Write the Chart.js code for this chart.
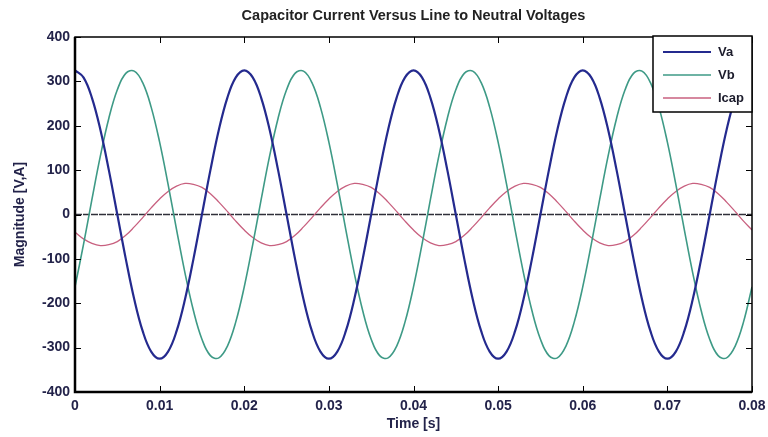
<!DOCTYPE html>
<html><head><meta charset="utf-8">
<script src="https://cdn.jsdelivr.net/npm/chart.js@4.4.0/dist/chart.umd.min.js"></script>
<style>html,body{margin:0;padding:0;background:#fff;overflow:hidden}</style>
</head><body>
<canvas id="c" width="768" height="437"></canvas>
<script>
const chartTitle = 'Capacitor Current Versus Line to Neutral Voltages';
const seriesNames = ['Va', 'Vb', 'Icap'];
const timeS = [0,0.001,0.002,0.003,0.004,0.005,0.006,0.007,0.008,0.009,
 0.010,0.011,0.012,0.013,0.014,0.015,0.016,0.017,0.018,0.019,
 0.020,0.021,0.022,0.023,0.024,0.025,0.026,0.027,0.028,0.029,
 0.030,0.031,0.032,0.033,0.034,0.035,0.036,0.037,0.038,0.039,
 0.040,0.041,0.042,0.043,0.044,0.045,0.046,0.047,0.048,0.049,
 0.050,0.051,0.052,0.053,0.054,0.055,0.056,0.057,0.058,0.059,
 0.060,0.061,0.062,0.063,0.064,0.065,0.066,0.067,0.068,0.069,
 0.070,0.071,0.072,0.073,0.074,0.075,0.076,0.077,0.078,0.079,0.080];
const va = [325,309,263,191,100,0,-100,-191,-263,-309,-325,-309,-263,-191,-100,0,100,191,263,309,
 325,309,263,191,100,0,-100,-191,-263,-309,-325,-309,-263,-191,-100,0,100,191,263,309,
 325,309,263,191,100,0,-100,-191,-263,-309,-325,-309,-263,-191,-100,0,100,191,263,309,
 325,309,263,191,100,0,-100,-191,-263,-309,-325,-309,-263,-191,-100,0,100,191,263,309,325];
const vb = [-163,-68,34,132,217,281,318,323,297,242,163,68,-34,-132,-217,-281,-318,-323,-297,-242,
 -163,-68,34,132,217,281,318,323,297,242,163,68,-34,-132,-217,-281,-318,-323,-297,-242,
 -163,-68,34,132,217,281,318,323,297,242,163,68,-34,-132,-217,-281,-318,-323,-297,-242,
 -163,-68,34,132,217,281,318,323,297,242,163,68,-34,-132,-217,-281,-318,-323,-297,-242,-163];
const icap = [-40,-55,-65,-70,-68,-61,-47,-28,-7,15,35,52,64,70,68,61,47,28,7,-15,
 -35,-52,-64,-70,-68,-61,-47,-28,-7,15,35,52,64,70,68,61,47,28,7,-15,
 -35,-52,-64,-70,-68,-61,-47,-28,-7,15,35,52,64,70,68,61,47,28,7,-15,
 -35,-52,-64,-70,-68,-61,-47,-28,-7,15,35,52,64,70,68,61,47,28,7,-15,-35];
const zeroTime = [0, 0.08];
const zeroTrace = [0, 0];
const xTickValues = [0,0.01,0.02,0.03,0.04,0.05,0.06,0.07,0.08];
const xTickLabels = ['0','0.01','0.02','0.03','0.04','0.05','0.06','0.07','0.08'];
const yTickValues = [-400,-300,-200,-100,0,100,200,300,400];
const yTickLabels = ['-400','-300','-200','-100','0','100','200','300','400'];

const pts = (xs, ys) => xs.map((x, i) => ({x: x, y: ys[i]}));
const FONT = '"Liberation Sans", Arial, sans-serif';
const TXT = '#23234a';

const frame = {
  id: 'frame',
  afterDatasetsDraw(chart) {
    const {ctx, chartArea: a, scales: {x, y}} = chart;
    ctx.save();
    // title centred over the plot area
    ctx.font = 'bold 14.5px ' + FONT;
    ctx.fillStyle = '#222';
    ctx.textAlign = 'center';
    ctx.textBaseline = 'middle';
    ctx.fillText(chartTitle, (a.left + a.right) / 2, 16);
    ctx.strokeStyle = '#000';
    ctx.lineWidth = 1;
    ctx.beginPath();
    x.ticks.forEach(t => {
      const px = Math.round(x.getPixelForValue(t.value)) + 0.5;
      ctx.moveTo(px, a.bottom); ctx.lineTo(px, a.bottom - 6);
      ctx.moveTo(px, a.top); ctx.lineTo(px, a.top + 6);
    });
    y.ticks.forEach(t => {
      const py = Math.round(y.getPixelForValue(t.value)) + 0.5;
      ctx.moveTo(a.left, py); ctx.lineTo(a.left + 6, py);
      ctx.moveTo(a.right, py); ctx.lineTo(a.right - 6, py);
    });
    ctx.stroke();
    ctx.lineWidth = 1.5;
    ctx.strokeRect(a.left, a.top, a.right - a.left, a.bottom - a.top);
    ctx.lineWidth = 2.5;
    ctx.beginPath();
    ctx.moveTo(a.left, a.top); ctx.lineTo(a.left, a.bottom); ctx.lineTo(a.right, a.bottom);
    ctx.stroke();
    // legend box
    const lx = a.right - 99, ly = a.top - 1, lw = 99, lh = 76;
    ctx.fillStyle = '#fff';
    ctx.fillRect(lx, ly, lw, lh);
    ctx.lineWidth = 1.5;
    ctx.strokeStyle = '#000';
    ctx.strokeRect(lx, ly, lw, lh);
    ctx.font = 'bold 13px ' + FONT;
    ctx.textBaseline = 'middle';
    ctx.textAlign = 'left';
    for (let i = 0; i < seriesNames.length; i++) {
      const ds = chart.data.datasets[i];
      const ry = ly + 16 + i * 23;
      ctx.strokeStyle = ds.borderColor;
      ctx.lineWidth = ds.borderWidth;
      ctx.beginPath(); ctx.moveTo(lx + 10, ry); ctx.lineTo(lx + 58, ry); ctx.stroke();
      ctx.fillStyle = '#1c1c2c';
      ctx.fillText(seriesNames[i], lx + 65, ry);
    }
    ctx.restore();
  }
};

new Chart(document.getElementById('c'), {
  type: 'line',
  data: {
    datasets: [
      {label: seriesNames[0], data: pts(timeS, va), borderColor: '#242a8e', borderWidth: 2.2, tension: 0.4, pointRadius: 0},
      {label: seriesNames[1], data: pts(timeS, vb), borderColor: '#3e9a86', borderWidth: 1.6, tension: 0.4, pointRadius: 0},
      {label: seriesNames[2], data: pts(timeS, icap), borderColor: '#c8607f', borderWidth: 1.3, tension: 0.4, pointRadius: 0},
      {label: 'zero', data: pts(zeroTime, zeroTrace), borderColor: '#30303a', borderWidth: 1.4, pointRadius: 0, borderDash: [7, 1]}
    ]
  },
  options: {
    responsive: false,
    animation: false,
    devicePixelRatio: 1,
    layout: {padding: {left: 0, right: 16, top: 37, bottom: 0}},
    plugins: {
      legend: {display: false},
      tooltip: {enabled: false},
      title: {display: false}
    },
    scales: {
      x: {
        type: 'linear', min: 0, max: 0.08,
        afterBuildTicks: s => { s.ticks = xTickValues.map(v => ({value: v})); },
        afterFit: s => { s.height = 45; s.paddingLeft = 0; s.paddingRight = 0; },
        grid: {display: false, drawTicks: false},
        border: {display: false},
        ticks: {padding: 6, color: TXT, font: {family: FONT, size: 14, weight: 'bold'}, maxRotation: 0,
          callback: (v, i) => xTickLabels[i]},
        title: {display: true, text: 'Time [s]', color: TXT, font: {family: FONT, size: 14, weight: 'bold'}, padding: {top: 0, bottom: 4}}
      },
      y: {
        type: 'linear', min: -400, max: 400,
        afterBuildTicks: s => { s.ticks = yTickValues.map(v => ({value: v})); },
        afterFit: s => { s.width = 75; s.paddingTop = 0; s.paddingBottom = 0; },
        grid: {display: false, drawTicks: false},
        border: {display: false},
        ticks: {padding: 5, color: TXT, font: {family: FONT, size: 14, weight: 'bold'},
          callback: (v, i) => yTickLabels[i]},
        title: {display: true, text: 'Magnitude [V,A]', color: TXT, font: {family: FONT, size: 14, weight: 'bold'}, padding: {top: 12, bottom: 0}}
      }
    }
  },
  plugins: [frame]
});
</script>
</body></html>
